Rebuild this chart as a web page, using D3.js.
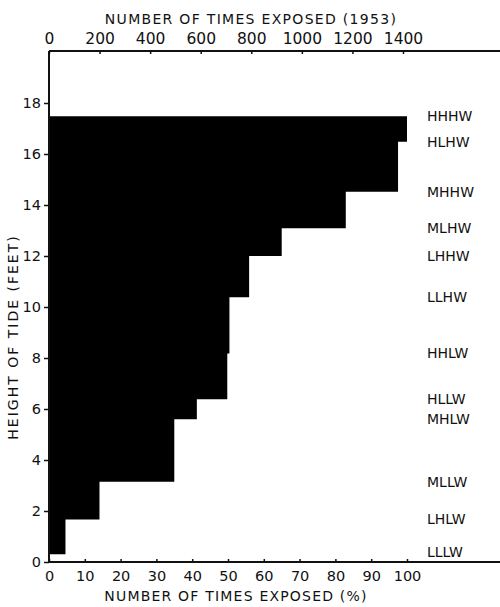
<!DOCTYPE html>
<html>
<head>
<meta charset="utf-8">
<script src="https://cdn.jsdelivr.net/npm/d3@7"></script>
<style>
  html, body { margin: 0; padding: 0; background: #fff; }
  svg { display: block; }
  text { font-family: "DejaVu Sans", sans-serif; fill: #111; }
</style>
</head>
<body>
<svg id="chart" width="500" height="607"></svg>
<script>
// Tide levels (top to bottom) and their heights in feet
const levels = ["HHHW", "HLHW", "MHHW", "MLHW", "LHHW", "LLHW", "HHLW", "HLLW", "MHLW", "MLLW", "LHLW", "LLLW"];
const levelHeights = [17.48, 16.48, 14.52, 13.09, 12.0, 10.38, 8.18, 6.38, 5.6, 3.15, 1.67, 0.3];
// Percent of times exposed for the band between one level and the next one down
const percentExposed = [100, 97.5, 82.9, 65.0, 55.9, 50.4, 49.8, 41.3, 35.0, 14.1, 4.6];

// Axis ticks
const heightTicks = [0, 2, 4, 6, 8, 10, 12, 14, 16, 18];
const percentTicks = [0, 10, 20, 30, 40, 50, 60, 70, 80, 90, 100];
const countTicks = [0, 200, 400, 600, 800, 1000, 1200, 1400];

const svg = d3.select("#chart");
const W = 500;
const x0 = 49, yBase = 562, yTopAxis = 51;

const x = d3.scaleLinear().domain([0, 100]).range([x0, 407]);
const xCount = d3.scaleLinear().domain([0, 1400]).range([x0, 403]);
const y = d3.scaleLinear().domain([0, 18]).range([yBase, 103]);

// Stepped exposure profile as one filled outline
const pts = [[0, levelHeights[0]]];
percentExposed.forEach((p, i) => {
  pts.push([p, levelHeights[i]]);
  pts.push([p, levelHeights[i + 1]]);
});
pts.push([0, levelHeights[levelHeights.length - 1]]);
const outline = d3.line().x(d => x(d[0])).y(d => y(d[1]));
svg.append("path")
  .attr("d", outline(pts) + "Z")
  .attr("fill", "#000");

// Frame lines: left, top, bottom
svg.append("line").attr("x1", x0).attr("x2", x0).attr("y1", yTopAxis).attr("y2", yBase)
  .attr("stroke", "#111").attr("stroke-width", 2);
svg.append("line").attr("x1", x0).attr("x2", W).attr("y1", yTopAxis).attr("y2", yTopAxis)
  .attr("stroke", "#111").attr("stroke-width", 2);
svg.append("line").attr("x1", x0 - 1).attr("x2", W).attr("y1", yBase).attr("y2", yBase)
  .attr("stroke", "#111").attr("stroke-width", 2);

// Left axis: height of tide
const yAxis = d3.axisLeft(y).tickValues(heightTicks).tickSize(5).tickPadding(3).tickFormat(d3.format("d"));
const gy = svg.append("g").attr("transform", `translate(${x0},0)`).call(yAxis);
gy.select(".domain").remove();
gy.selectAll(".tick line").attr("stroke", "#111").attr("stroke-width", 1.5);
gy.selectAll(".tick text").style("font-size", "14.5px").attr("fill", "#111")
  .style("font-family", "DejaVu Sans, sans-serif");

// Bottom axis: percent exposed
const xAxis = d3.axisBottom(x).tickValues(percentTicks).tickSize(-3).tickPadding(9).tickFormat(d3.format("d"));
const gx = svg.append("g").attr("transform", `translate(0,${yBase})`).call(xAxis);
gx.select(".domain").remove();
gx.selectAll(".tick line").attr("stroke", "#111").attr("stroke-width", 1.5);
gx.selectAll(".tick text").style("font-size", "14.5px").attr("fill", "#111")
  .style("font-family", "DejaVu Sans, sans-serif");

// Top axis: number of times exposed
const xTop = d3.axisTop(xCount).tickValues(countTicks).tickSize(-3).tickPadding(7).tickFormat(d3.format("d"));
const gt = svg.append("g").attr("transform", `translate(0,${yTopAxis})`).call(xTop);
gt.select(".domain").remove();
gt.selectAll(".tick line").attr("stroke", "#111").attr("stroke-width", 1.5);
gt.selectAll(".tick text").style("font-size", "15.5px").attr("fill", "#111")
  .style("font-family", "DejaVu Sans, sans-serif");

// Axis titles
svg.append("text").attr("x", 251).attr("y", 24).attr("text-anchor", "middle")
  .style("font-size", "14px").style("letter-spacing", "1.3px")
  .text("NUMBER OF TIMES EXPOSED (1953)");
svg.append("text").attr("x", 236).attr("y", 601).attr("text-anchor", "middle")
  .style("font-size", "14px").style("letter-spacing", "1.2px")
  .text("NUMBER OF TIMES EXPOSED (%)");
svg.append("text")
  .attr("transform", `translate(18,337) rotate(-90)`)
  .attr("text-anchor", "middle")
  .style("font-size", "14px").style("letter-spacing", "2px")
  .text("HEIGHT OF TIDE (FEET)");

// Tide level labels on the right
svg.append("g").selectAll("text").data(levels).join("text")
  .attr("x", 427)
  .attr("y", (d, i) => Math.min(y(levelHeights[i]), yBase - 10))
  .attr("dy", "0.36em")
  .style("font-size", "14px")
  .text(d => d);
</script>
</body>
</html>
